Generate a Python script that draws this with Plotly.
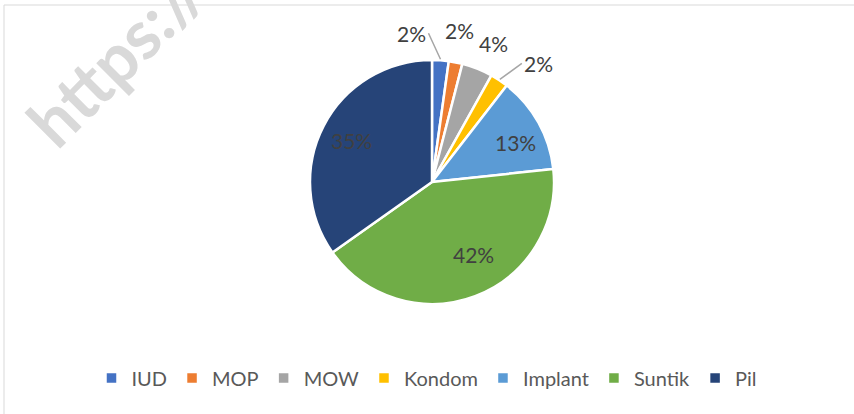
import math
import plotly.graph_objects as go

# data
methods = ["IUD", "MOP", "MOW", "Kondom", "Implant", "Suntik", "Pil"]
shares = [2.2, 1.8, 4.1, 2.4, 12.8, 41.9, 34.8]
colors = ["#4472C4", "#ED7D31", "#A5A5A5", "#FFC000", "#5B9BD5", "#70AD47", "#264478"]

W, H = 854, 414
CX, CY, R = 432, 182, 122  # pie centre / radius in pixels
FONT = "Lato"
LABEL_FONT = dict(family=FONT, size=21, color="#404040")
# small pixel nudges so labels sit where Excel put them
NUDGE = {"MOP": (-2, -2), "MOW": (5, 3), "Implant": (5, 4), "Suntik": (10, -12)}

def px_to_paper(px, py):
    return px / W, 1 - py / H

fig = go.Figure()
fig.add_trace(go.Pie(
    labels=methods,
    values=shares,
    sort=False,
    direction="clockwise",
    rotation=0,
    marker=dict(colors=colors, line=dict(color="white", width=2.5)),
    textinfo="none",
    hoverinfo="label+percent",
    domain=dict(x=[(CX - R) / W, (CX + R) / W], y=[1 - (CY + R) / H, 1 - (CY - R) / H]),
))

# data labels, placed at each slice's mid angle
total = sum(shares)
cum = 0
for name, v in zip(methods, shares):
    mid = (cum + v / 2) / total * 2 * math.pi
    cum += v
    pct = f"{round(v / total * 100)}%"
    sx, sy = math.sin(mid), -math.cos(mid)
    nx, ny = NUDGE.get(name, (0, 0))
    if v / total > 0.08:
        x, y = px_to_paper(CX + sx * R * 0.74 + nx, CY + sy * R * 0.74 + ny)
        fig.add_annotation(x=x, y=y, xref="paper", yref="paper", text=pct, showarrow=False,
                           xanchor="center", yanchor="middle", font=LABEL_FONT)
    elif name in ("IUD", "Kondom"):
        tx, ty = px_to_paper(CX + sx * (R + 1), CY + sy * (R + 1))
        dx = -12 if name == "IUD" else 22
        dy = -26 if name == "IUD" else -16
        fig.add_annotation(x=tx, y=ty, xref="paper", yref="paper", text=pct,
                           showarrow=True, arrowhead=0, arrowwidth=1.5, arrowcolor="#a6a6a6",
                           ax=dx, ay=dy, standoff=0, xanchor="right" if dx < 0 else "left",
                           yanchor="middle", font=LABEL_FONT)
    else:
        x, y = px_to_paper(CX + sx * (R + 30) + nx, CY + sy * (R + 30) + ny)
        fig.add_annotation(x=x, y=y, xref="paper", yref="paper", text=pct, showarrow=False,
                           xanchor="center", yanchor="middle", font=LABEL_FONT)

# faint watermark (cut by the top edge, as in the source image)
wx, wy = px_to_paper(116, 56)
fig.add_annotation(x=wx, y=wy, xref="paper", yref="paper", text="<b>https://</b>",
                   textangle=-45, showarrow=False, xanchor="center", yanchor="middle",
                   font=dict(family=FONT, size=68, color="#d9d9d9"))

# chart border
bx, by = px_to_paper(4, 5)
fig.add_shape(type="rect", xref="paper", yref="paper", x0=bx, y0=by, x1=1.02, y1=-0.02,
              line=dict(color="#d9d9d9", width=1), layer="below")

fig.update_layout(
    width=W, height=H,
    margin=dict(l=0, r=0, t=0, b=0),
    paper_bgcolor="white",
    showlegend=True,
    legend=dict(orientation="h", x=0.5, xanchor="center", y=1 - 378 / H, yanchor="middle",
                font=dict(family=FONT, size=20, color="#595959"), itemwidth=30,
                traceorder="normal"),
    font=dict(family=FONT),
)

fig.write_html("out.html", config={"displayModeBar": False},
               post_script="document.body.style.margin='0';")
